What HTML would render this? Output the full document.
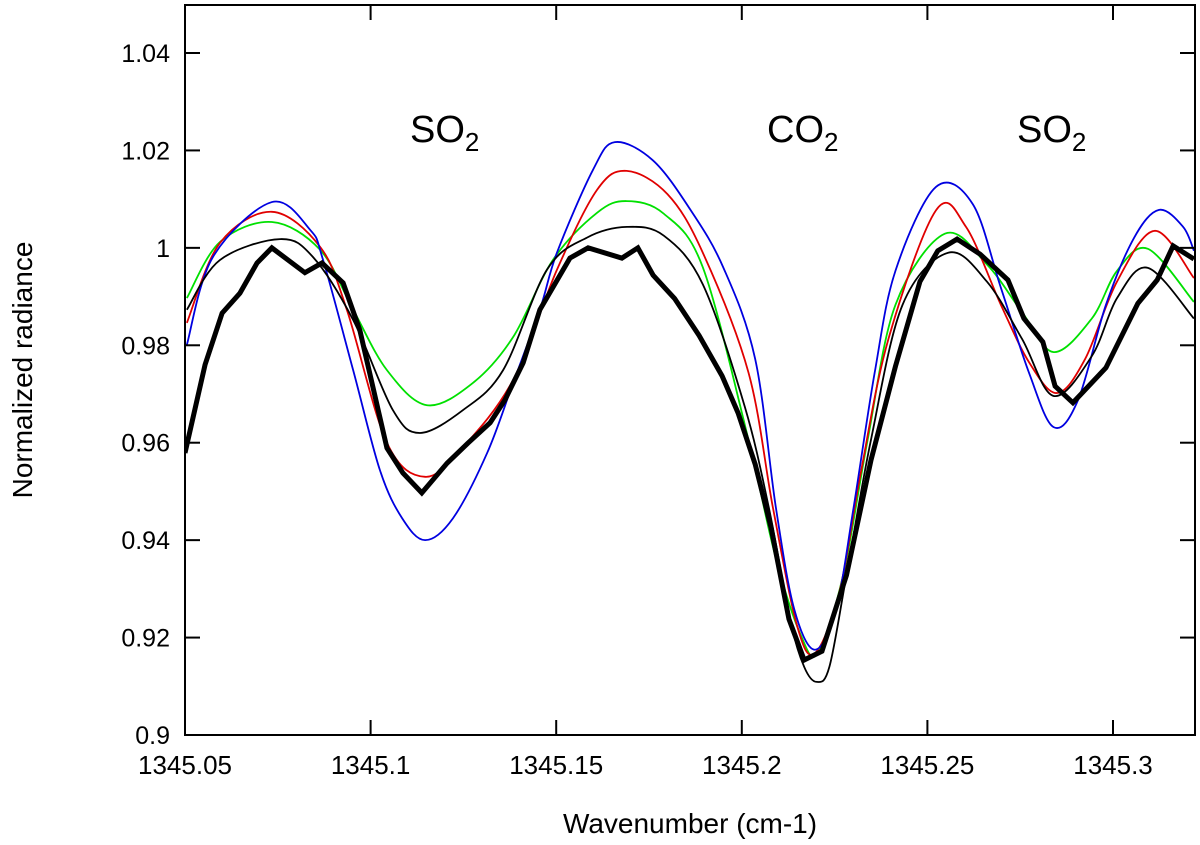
<!DOCTYPE html>
<html><head><meta charset="utf-8"><style>
html,body{margin:0;padding:0;background:#fff;overflow:hidden;width:1200px;height:845px;}
svg text{font-family:"Liberation Sans",sans-serif;}
</style></head><body>
<svg id="chart" width="1200" height="845" xmlns="http://www.w3.org/2000/svg" style="display:block">
<defs><clipPath id="pc"><rect x="185" y="5" width="1010" height="730"/></clipPath></defs>
<g id="marks" clip-path="url(#pc)"></g>
<g id="axes"></g>
<text x="690" y="833" text-anchor="middle" font-size="28">Wavenumber (cm-1)</text>
<text transform="translate(32,370) rotate(-90)" text-anchor="middle" font-size="28">Normalized radiance</text>
<text x="410" y="142" font-size="38">SO<tspan font-size="26" dy="9">2</tspan></text>
<text x="767" y="142" font-size="38">CO<tspan font-size="26" dy="9">2</tspan></text>
<text x="1017" y="142" font-size="38">SO<tspan font-size="26" dy="9">2</tspan></text>
</svg>
<script>
const xTicks=[1345.05,1345.1,1345.15,1345.2,1345.25,1345.3];
const xTickLabels=["1345.05","1345.1","1345.15","1345.2","1345.25","1345.3"];
const yTicks=[0.9,0.92,0.94,0.96,0.98,1,1.02,1.04];
const yTickLabels=["0.9","0.92","0.94","0.96","0.98","1","1.02","1.04"];
const obsX=[.0500,.0554,.0600,.0648,.0694,.0734,.0823,.0869,.0926,.0971,.1044,.1087,.1138,.1206,.1262,.1322,.1362,.1411,.1456,.1537,.1586,.1677,.1720,.1761,.1819,.1885,.1947,.1990,.2036,.2079,.2127,.2168,.2216,.2282,.2348,.2414,.2480,.2528,.2580,.2642,.2717,.2760,.2811,.2844,.2892,.2981,.3067,.3119,.3162,.3218];
const obsY=[.9579,.9760,.9866,.9907,.9969,1.0000,.9949,.9969,.9928,.9831,.9589,.9538,.9497,.9558,.9599,.9641,.9688,.9764,.9873,.9979,1.0000,.9979,1.0000,.9944,.9896,.9820,.9737,.9661,.9556,.9425,.9238,.9154,.9172,.9328,.9564,.9757,.9931,.9994,1.0018,.9987,.9934,.9855,.9807,.9716,.9682,.9754,.9886,.9934,1.0004,.9977];
const blueX=[.0505,.0575,.0734,.0837,.0872,.0953,.1025,.1085,.1147,.1222,.1314,.1384,.1456,.1502,.1599,.1658,.1760,.1860,.1950,.2036,.2092,.2141,.2197,.2254,.2301,.2358,.2414,.2523,.2622,.2698,.2774,.2840,.2906,.2981,.3057,.3124,.3189,.3218];
const blueY=[.9801,.9981,1.0094,1.0037,.9975,.9749,.9544,.9445,.9400,.9445,.9579,.9723,.9873,.9990,1.0160,1.0217,1.0180,1.0080,.9960,.9772,.9466,.9259,.9175,.9259,.9466,.9744,.9953,1.0125,1.0090,.9918,.9743,.9632,.9688,.9883,1.0021,1.0078,1.0043,.9994];
const redX=[.0505,.0594,.0734,.0864,.0936,.1044,.1147,.1249,.1384,.1502,.1610,.1690,.1800,.1895,.2018,.2084,.2149,.2197,.2263,.2320,.2395,.2523,.2604,.2698,.2774,.2849,.2925,.3011,.3113,.3218];
const redY=[.9846,1.0010,1.0074,1.0002,.9873,.9600,.9530,.9591,.9729,.9955,1.0119,1.0158,1.0110,.9990,.9744,.9466,.9224,.9168,.9294,.9536,.9813,1.0077,1.0043,.9883,.9765,.9702,.9772,.9931,1.0035,.9938];
const greenX=[.0505,.0594,.0734,.0864,.0953,.1044,.1152,.1276,.1384,.1491,.1610,.1690,.1790,.1895,.2018,.2092,.2160,.2205,.2273,.2339,.2414,.2547,.2660,.2755,.2840,.2943,.3011,.3094,.3218];
const greenY=[.9897,1.0012,1.0053,.9996,.9873,.9749,.9677,.9723,.9817,.9975,1.0072,1.0096,1.0070,.9960,.9606,.9362,.9203,.9168,.9328,.9606,.9883,1.0029,.9966,.9868,.9786,.9855,.9953,.9998,.9889];
const thinX=[.0505,.0594,.0756,.0845,.0953,.1060,.1133,.1249,.1357,.1475,.1583,.1691,.1790,.1895,.2008,.2073,.2130,.2168,.2202,.2236,.2282,.2348,.2433,.2556,.2660,.2755,.2840,.2943,.3011,.3094,.3218];
const thinY=[.9873,.9975,1.0018,.9981,.9852,.9667,.9620,.9667,.9749,.9955,1.0021,1.0043,1.0025,.9925,.9674,.9466,.9238,.9140,.9109,.9140,.9328,.9606,.9883,.9990,.9931,.9813,.9696,.9778,.9897,.9959,.9855];

const NS="http://www.w3.org/2000/svg";
const L=185,R=1195,T=5,B=735;
const xs=v=>L+(v-1345.05)/(1345.3-1345.05)*(1113-185);
const ys=v=>B-(v-0.9)/0.14*(735-53);
function mk(t,a,p){const e=document.createElementNS(NS,t);for(const k in a)e.setAttribute(k,a[k]);(p||document.getElementById('axes')).appendChild(e);return e;}
function smooth(X,Y){const p=X.map((x,i)=>[xs(1345+x),ys(Y[i])]);let d="M"+p[0][0]+","+p[0][1];
 for(let i=0;i<p.length-1;i++){const p0=p[i-1]||p[i],p1=p[i],p2=p[i+1],p3=p[i+2]||p2;
 d+=` C${p1[0]+(p2[0]-p0[0])/6},${p1[1]+(p2[1]-p0[1])/6} ${p2[0]-(p3[0]-p1[0])/6},${p2[1]-(p3[1]-p1[1])/6} ${p2[0]},${p2[1]}`;}return d;}
const g=document.getElementById('marks');
const series=[[greenX,greenY,"#00e000","green-model"],[redX,redY,"#e00000","red-model"],[blueX,blueY,"#0000e0","blue-model"],[thinX,thinY,"#000","black-model"]];
series.forEach(s=>{const e=mk('path',{d:smooth(s[0],s[1]),fill:"none",stroke:s[2],"stroke-width":1.8},g);

});
const ob=mk('polyline',{points:obsX.map((x,i)=>xs(1345+x)+","+ys(obsY[i])).join(" "),fill:"none",stroke:"#000","stroke-width":5,"stroke-linejoin":"miter"},g);


const fr=mk('rect',{x:L,y:T,width:R-L,height:B-T,fill:"none",stroke:"#000","stroke-width":2});


yTicks.forEach((v,i)=>{const y=ys(v);
 mk('line',{x1:L,x2:L+15,y1:y,y2:y,stroke:"#000","stroke-width":2});
 mk('line',{x1:R-15,x2:R,y1:y,y2:y,stroke:"#000","stroke-width":2});
 const t=mk('text',{x:170,y:y+9,"text-anchor":"end","font-size":25});t.textContent=yTickLabels[i];
 
 });
xTicks.forEach((v,i)=>{const x=xs(v);
 mk('line',{x1:x,x2:x,y1:B,y2:B-15,stroke:"#000","stroke-width":2});
 mk('line',{x1:x,x2:x,y1:T,y2:T+15,stroke:"#000","stroke-width":2});
 const t=mk('text',{x:x,y:774,"text-anchor":"middle","font-size":26});t.textContent=xTickLabels[i];
 
 });
</script>
</body></html>
